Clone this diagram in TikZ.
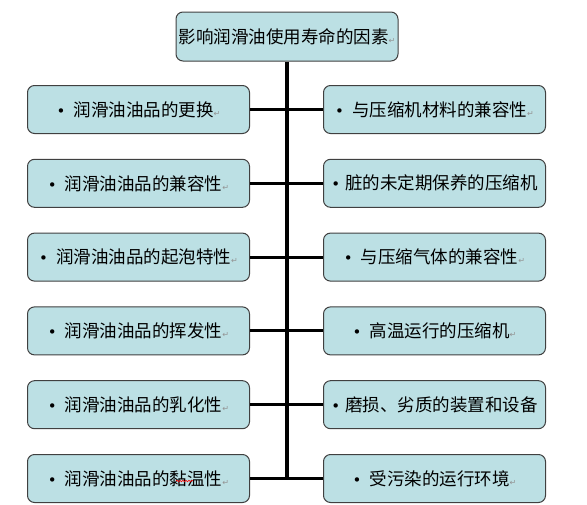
\documentclass[tikz,border=0pt]{standalone}
\usepackage{fontspec}
\setmainfont{Noto Sans CJK SC}
\newfontfamily\markfont{DejaVu Sans}
\usetikzlibrary{positioning}
\usetikzlibrary{decorations.pathmorphing}
\definecolor{caja}{RGB}{188,224,228}
\definecolor{borde}{RGB}{64,64,64}
\tikzstyle{factor} = [draw=borde, fill=caja, rounded corners=7pt, line width=1pt, minimum width=222pt, minimum height=48pt, inner sep=0pt, font=\fontsize{17.5}{20}\selectfont]
\tikzstyle{link} = [draw, line width=3pt]
\tikzstyle{tronco} = [draw, line width=4pt]
\tikzstyle{onda} = [draw=red, line width=0.6pt, decorate, decoration={snake, amplitude=0.8pt, segment length=3pt}]
\newcommand{\ret}{{\markfont\fontsize{8}{8}\selectfont\textcolor{gray!85}{↵}}}
\newcommand{\bala}{{\markfont\fontsize{15}{15}\selectfont•}}
\newcommand{\pto}{\bala\hspace{8pt}}

\begin{document}
\begin{tikzpicture}[x=1pt, y=-1pt, node distance=24.8pt]
    \useasboundingbox (0,0) rectangle (587,504);
    \node[factor, minimum height=49pt] (factores) at (287,36.5) {影响润滑油使用寿命的因素\ret};

    \node[factor] (cambio) at (138.5,109.5) {\pto 润滑油油品的更换\ret};
    \node[factor] (compat) [below=of cambio] {\pto 润滑油油品的兼容性\ret};
    \node[factor] (espuma) [below=of compat] {\pto 润滑油油品的起泡特性\ret};
    \node[factor] (volatil) [below=of espuma] {\pto 润滑油油品的挥发性\ret};
    \node[factor] (emulsion) [below=of volatil] {\pto 润滑油油品的乳化性\ret};
    \node[factor] (viscos) [below=of emulsion] {\pto 润滑油油品的黏温性\ret};
    \draw[onda] (176,481) -- (193,481);

    \node[factor] (material) at (434.5,109.5) {\pto 与压缩机材料的兼容性\ret};
    \node[factor] (sucio) [below=of material] {\bala\hspace{5pt}脏的未定期保养的压缩机};
    \node[factor] (gas) [below=of sucio] {\pto 与压缩气体的兼容性\ret};
    \node[factor] (calor) [below=of gas] {\pto 高温运行的压缩机\ret};
    \node[factor] (desgaste) [below=of calor] {\bala\hspace{5pt}磨损、劣质的装置和设备};
    \node[factor] (entorno) [below=of desgaste] {\pto 受污染的运行环境\ret};

    \draw[tronco] (factores.south) -- (factores.south |- viscos.east);
    \draw[link] (cambio.east) -- (material.west);
    \draw[link] (compat.east) -- (sucio.west);
    \draw[link] (espuma.east) -- (gas.west);
    \draw[link] (volatil.east) -- (calor.west);
    \draw[link] (emulsion.east) -- (desgaste.west);
    \draw[link] (viscos.east) -- (entorno.west);
\end{tikzpicture}
\end{document}
